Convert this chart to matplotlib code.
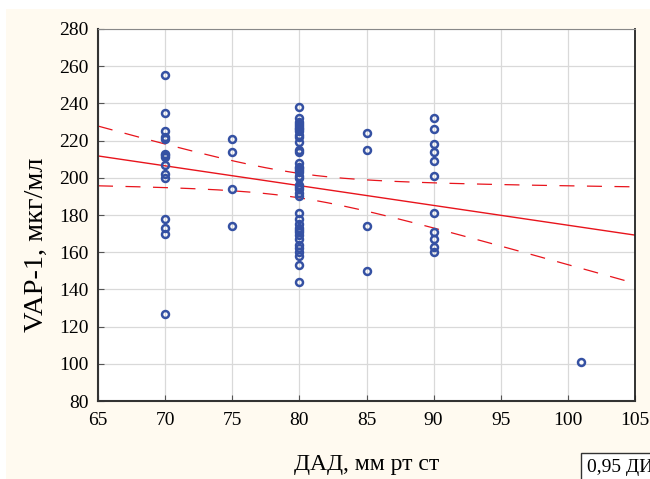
import matplotlib.pyplot as plt
import numpy as np
from matplotlib.patches import Rectangle

plt.rcParams['font.family'] = ['Liberation Serif', 'DejaVu Serif']

# ДАД values and matching VAP-1 values
x70 = [255, 235, 225, 222, 221, 213, 212, 211, 207, 202, 200, 178, 173, 170, 127]
x75 = [221, 214, 194, 174]
x80 = [238, 232, 230, 229, 228, 227, 226, 225, 223, 222, 219, 215, 214,
       208, 206, 205, 204, 203, 201, 200, 196, 195, 194, 192, 190,
       181, 178, 175, 173, 172, 171, 169, 167, 164, 162, 160, 158, 153, 144]
x85 = [224, 215, 174, 150]
x90 = [232, 226, 218, 214, 209, 201, 181, 171, 167, 163, 160]
x101 = [101]

groups = {70: x70, 75: x75, 80: x80, 85: x85, 90: x90, 101: x101}
xs = np.concatenate([[k] * len(v) for k, v in groups.items()]).astype(float)
ys = np.concatenate([v for v in groups.values()]).astype(float)

xticks = list(range(65, 106, 5))
yticks = list(range(80, 281, 20))

fig = plt.figure(figsize=(6.5, 4.79), dpi=100, facecolor='white')
fig.patches.append(Rectangle((6 / 650, 0), 1, 1 - 9 / 479, transform=fig.transFigure,
                             facecolor='#fffaf0', edgecolor='none', zorder=-10))
ax = fig.add_axes([98 / 650, 1 - 401 / 479, (635 - 98) / 650, (401 - 29) / 479])
ax.set_facecolor('white')

# linear fit and 95% confidence band
n = len(xs)
b, a = np.polyfit(xs, ys, 1)
xf = np.linspace(65, 105, 200)
yf = a + b * xf
res = ys - (a + b * xs)
s = np.sqrt(np.sum(res ** 2) / (n - 2))
se = s * np.sqrt(1 / n + (xf - xs.mean()) ** 2 / np.sum((xs - xs.mean()) ** 2))
t = 1.99
ax.plot(xf, yf, color='#e8141c', lw=1.0, zorder=2)
ax.plot(xf, yf + t * se, color='#e8141c', lw=0.9, dashes=(12, 10), zorder=2)
ax.plot(xf, yf - t * se, color='#e8141c', lw=0.9, dashes=(12, 10), zorder=2)

ax.plot(xs, ys, 'o', ms=5, mfc='none', mec='#3551a3', mew=1.8, zorder=3)

ax.set_xlim(65, 105)
ax.set_ylim(80, 280)
ax.set_xticks(xticks)
ax.set_yticks(yticks)
ax.grid(True, color='#d9d9d9', lw=0.9)
ax.set_axisbelow(True)
ax.tick_params(labelsize=14, length=4, direction='in', color='#555555')
ax.tick_params(axis='x', pad=8)
ax.tick_params(axis='y', pad=7)
for sp in ['left', 'bottom']:
    ax.spines[sp].set_color('#333333')
    ax.spines[sp].set_linewidth(1.5)
ax.spines['top'].set_color('#888888')
ax.spines['right'].set_color('#222222')
ax.spines['right'].set_linewidth(1.3)

ax.set_xlabel('ДАД, мм рт ст', fontsize=17, labelpad=18)
ax.set_ylabel('VAP-1, мкг/мл', fontsize=20.5)
ax.yaxis.set_label_coords(-0.092, 0.42)

fig.text(587 / 650, 1 - 467 / 479, '0,95 ДИ', fontsize=14, va='center', ha='left',
         bbox=dict(boxstyle='square,pad=0.3', facecolor='white', edgecolor='#333333', lw=1))

fig.savefig('out.png', dpi=100, facecolor=fig.get_facecolor())
